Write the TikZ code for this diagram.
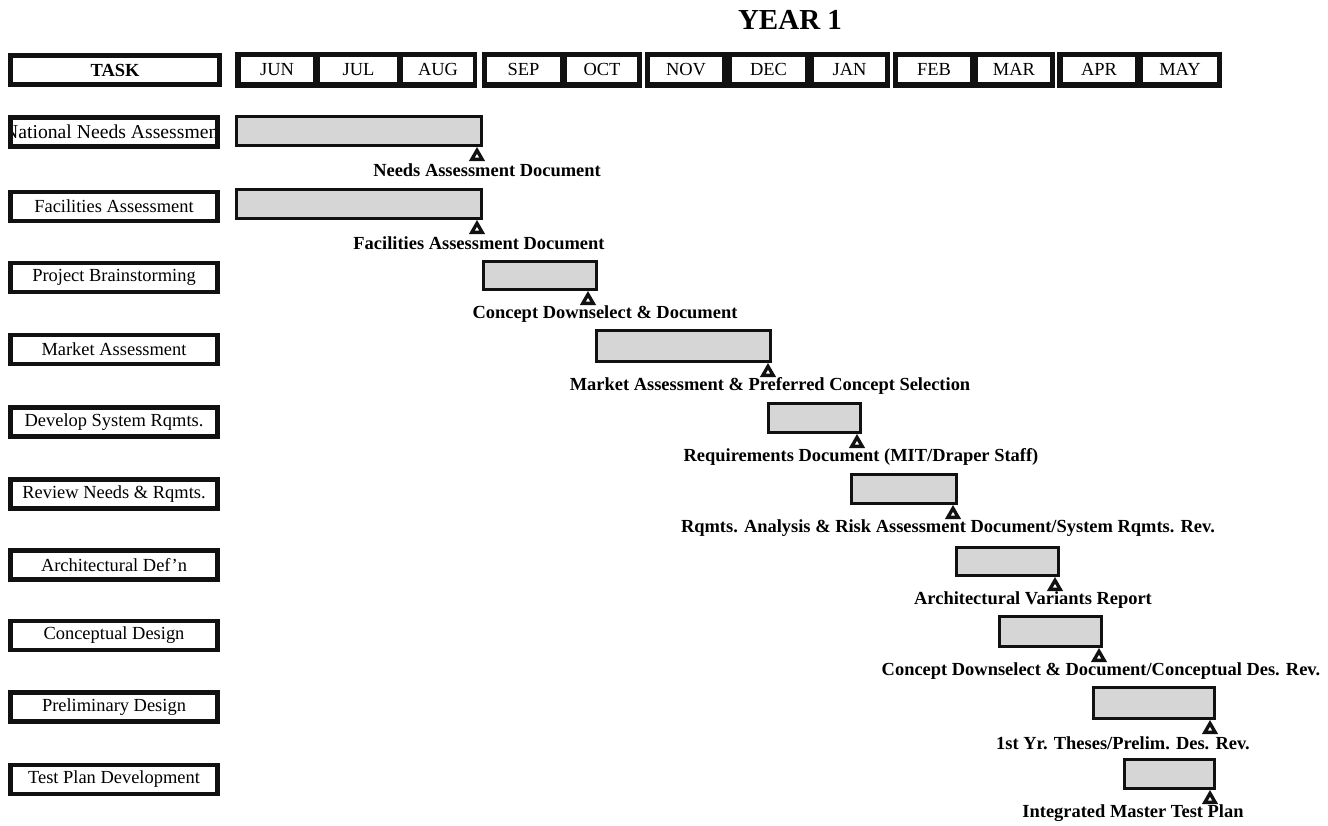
\documentclass[tikz,border=0pt]{standalone}
\usepackage{fontspec}
\setmainfont{Liberation Serif}
\usepackage{tikz}
\usetikzlibrary{shapes.geometric,fit,positioning}
\definecolor{gtink}{HTML}{111111}
\definecolor{gtbar}{HTML}{D6D6D6}
\tikzset{
  taskBox/.style={draw=gtink, line width=2.8pt, fill=white, minimum width=4.14cm, minimum height=0.58cm, inner sep=0pt, font=\fontsize{10.5}{12}\selectfont},
  monthGroup/.style={fill=gtink, inner sep=0pt},
  monthBox/.style={fill=white, inner sep=0pt},
  monthText/.style={font=\fontsize{10.5}{12}\selectfont, inner sep=0pt},
  barBox/.style={draw=gtink, line width=1.7pt, fill=gtbar, inner sep=0pt},
  mileStone/.style={regular polygon, regular polygon sides=3, minimum size=0.24cm, inner sep=0pt, draw=gtink, fill=white, line width=1.9pt},
  msLabel/.style={font=\bfseries\fontsize{10.5}{12}\selectfont}
}

\begin{document}
\begin{tikzpicture}[x=0.02cm,y=-0.02cm]
  \useasboundingbox (0,0) rectangle (1328,825);
  \node[font=\bfseries\fontsize{16.5}{18}\selectfont] (year) at (790,20) {YEAR 1};
  % header row
  \node[taskBox, minimum width=4.18cm, font=\bfseries\fontsize{10.5}{12}\selectfont] (task) at (115,70) {TASK};
  \foreach \g/\xa/\xb in {g1/235/477, g2/482/642, g3/645/890, g4/893/1055, g5/1057/1222}
    \node[monthGroup, fit={(\xa,52) (\xb,88)}] (\g) {};
  \foreach \m/\xa/\xb in {JUN/241/313, JUL/320/397, AUG/403/473, SEP/487/560, OCT/567/637, NOV/650/722, DEC/732/805, JAN/814/885, FEB/898/970, MAR/978/1050, APR/1063/1135, MAY/1143/1217}
    \node[monthBox, fit={(\xa,57) (\xb,82)}, label={[monthText]center:\m}] (\m) {};
  % task column
  \node[taskBox, path picture={\node[font=\fontsize{11.2}{13}\selectfont] at (path picture bounding box.center) {National Needs Assessment};}] (t1) at (114,132) {};
  \foreach \i/\y/\txt in {2/206.5/Facilities Assessment, 3/277.5/Project Brainstorming, 4/349.5/Market Assessment, 5/422/Develop System Rqmts., 6/494/Review Needs \& Rqmts., 7/565/Architectural Def'n, 8/635.5/Conceptual Design, 9/707/Preliminary Design, 10/779.5/Test Plan Development}
    \node[taskBox] (t\i) at (114,\y) {\txt};
  % bars, milestones and deliverables
  \foreach \i/\xa/\ya/\xb/\yb/\mx/\lx/\txt in {
      1/235/115/483/147/477/487/{Needs Assessment Document},
      2/235/188/483/220/477/479/{Facilities Assessment Document},
      3/482/260/598/291/588/605/{Concept Downselect \& Document},
      4/595/329/772/363/768/770/{Market Assessment \& Preferred Concept Selection},
      5/767/402/862/434/857/861/{Requirements Document (MIT/Draper Staff)},
      6/850/473/958/505/953/948/{Rqmts. Analysis \& Risk Assessment Document/System Rqmts. Rev.},
      7/955/546/1060/577/1055/1033/{Architectural Variants Report},
      8/998/615/1103/648/1099/1101/{Concept Downselect \& Document/Conceptual Des. Rev.},
      9/1092/686/1216/720/1210/1123/{1st Yr. Theses/Prelim. Des. Rev.},
      10/1123/758/1216/790/1210/1133/{Integrated Master Test Plan}}
  {
    \node[barBox, fit={(\xa+1.5,\ya+1.5) (\xb-1.5,\yb-1.5)}] (b\i) {};
    \node[mileStone, anchor=corner 1] (m\i) at (\mx,\yb) {};
    \node[msLabel] (l\i) at (\lx,\yb+23) {\txt};
  }
\end{tikzpicture}
\end{document}
